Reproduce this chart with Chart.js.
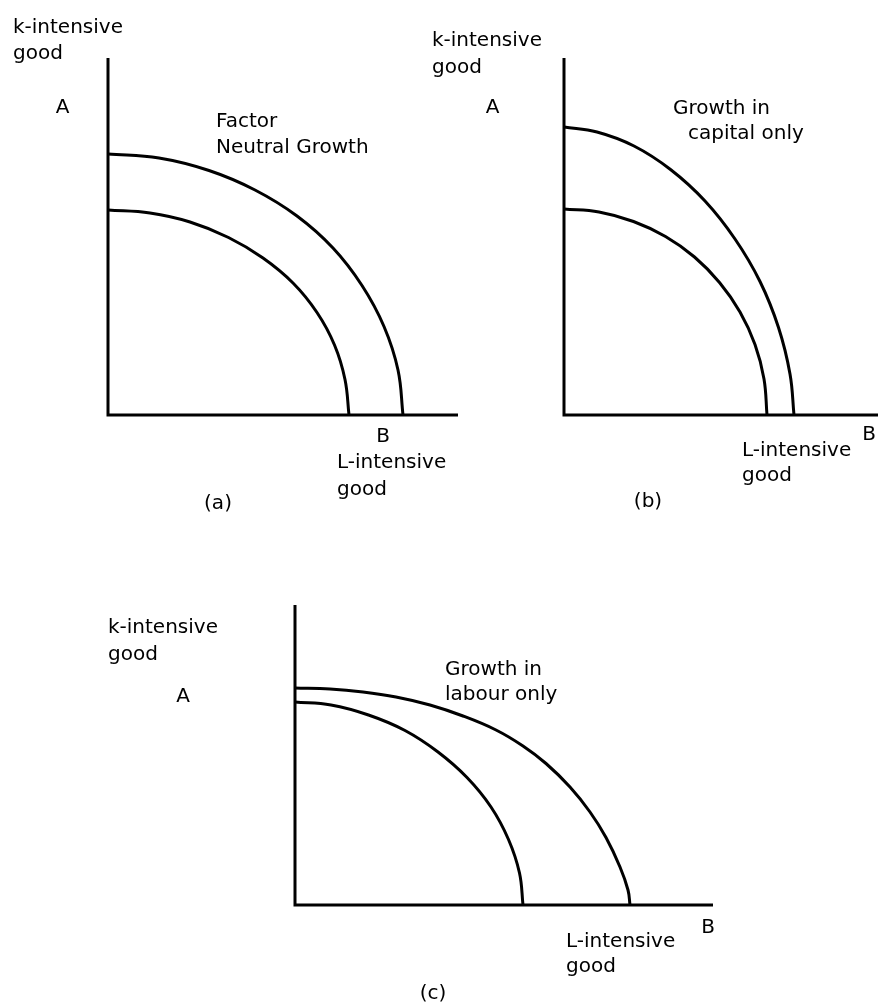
<!DOCTYPE html>
<html>
<head>
<meta charset="utf-8">
<title>Factor growth and the production possibility frontier</title>
<script src="https://cdn.jsdelivr.net/npm/chart.js@4/dist/chart.umd.min.js"></script>
<style>
  html, body { margin: 0; padding: 0; background: #fff; }
  #wrap { position: relative; width: 878px; height: 1008px; }
  #wrap canvas { position: absolute; left: 0; top: 0; }
</style>
</head>
<body>
<div id="wrap">
  <canvas id="panelA" width="878" height="1008"></canvas>
  <canvas id="panelB" width="878" height="1008"></canvas>
  <canvas id="panelC" width="878" height="1008"></canvas>
</div>
<script>
// PPF curves (x = L-intensive good, y = k-intensive good)

// (a) factor neutral growth
var aInnerX = [0, 4.2, 8.2, 12.05, 15.5, 18.5, 20.9, 22.65, 23.7, 24.1];
var aInnerY = [20.5, 20.2, 19.3, 17.75, 15.7, 13.2, 10.25, 7.0, 3.55, 0];
var aOuterX = [0, 5.1, 10.1, 14.7, 18.9, 22.5, 25.4, 27.6, 29.0, 29.5];
var aOuterY = [26.1, 25.7, 24.45, 22.5, 19.9, 16.7, 12.95, 8.85, 4.5, 0];

// (b) growth in capital only
var bInnerX = [0, 3.5, 6.95, 10.15, 13.05, 15.55, 17.6, 19.1, 20.0, 20.3];
var bInnerY = [20.6, 20.3, 19.35, 17.85, 15.8, 13.25, 10.3, 7.05, 3.6, 0];
var bOuterX = [0, 3.3, 7.0, 10.65, 14.1, 17.1, 19.6, 21.45, 22.6, 23.0];
var bOuterY = [28.8, 28.3, 26.9, 24.55, 21.4, 17.6, 13.35, 8.75, 4.1, 0];

// (c) growth in labour only
var cInnerX = [0, 3.6, 7.35, 11.0, 14.3, 17.2, 19.6, 21.35, 22.45, 22.8];
var cInnerY = [20.3, 20.0, 19.0, 17.45, 15.3, 12.75, 9.8, 6.55, 3.2, 0];
var cOuterX = [0, 3.5, 6.8, 10.1, 13.5, 16.8, 20.1, 22.8, 25.1, 27.5, 29.5, 31.1, 32.5, 33.3, 33.5];
var cOuterY = [21.7, 21.6, 21.3, 20.8, 20.0, 18.9, 17.5, 15.9, 14.15, 11.8, 9.3, 6.75, 3.8, 1.5, 0];

// axis lengths for each panel
var axisMaxX = [35, 31.4, 41.8];
var axisMaxY = [35.7, 35.7, 30];

function zip(xs, ys) {
    return xs.map(function (x, i) { return { x: x, y: ys[i] }; });
}

// draws the text labels at positions given in axis units
var labelPlugin = {
    id: 'panelLabels',
    afterDatasetsDraw: function (chart, args, opts) {
        var ctx = chart.ctx;
        var xs = chart.scales.x, ys = chart.scales.y;
        ctx.save();
        ctx.font = '20px "DejaVu Sans", sans-serif';
        ctx.fillStyle = '#000';
        ctx.textBaseline = 'alphabetic';
        (opts.items || []).forEach(function (it) {
            ctx.textAlign = it.align || 'left';
            ctx.fillText(it.text, xs.getPixelForValue(it.x), ys.getPixelForValue(it.y));
        });
        ctx.restore();
    }
};

function curve(data) {
    return {
        data: data,
        borderColor: '#000',
        borderWidth: 3,
        pointRadius: 0,
        fill: false,
        tension: 0.4,
        clip: false
    };
}

function makePanel(id, idx, inner, outer, padding, labels) {
    var xMax = axisMaxX[idx], yMax = axisMaxY[idx];
    var axes = {
        data: [{ x: 0, y: yMax }, { x: 0, y: 0 }, { x: xMax, y: 0 }],
        borderColor: '#000',
        borderWidth: 3,
        pointRadius: 0,
        tension: 0,
        fill: false,
        clip: false
    };
    return new Chart(document.getElementById(id), {
        type: 'line',
        data: { datasets: [axes, curve(inner), curve(outer)] },
        options: {
            responsive: false,
            animation: false,
            events: [],
            layout: { padding: padding },
            scales: {
                x: { type: 'linear', min: 0, max: xMax, display: false },
                y: { type: 'linear', min: 0, max: yMax, display: false }
            },
            plugins: {
                legend: { display: false },
                tooltip: { enabled: false },
                panelLabels: { items: labels }
            }
        },
        plugins: [labelPlugin]
    });
}

document.addEventListener('DOMContentLoaded', function () {
    makePanel('panelA', 0, zip(aInnerX, aInnerY), zip(aOuterX, aOuterY),
        { left: 108, top: 58, right: 420, bottom: 593 },
        [
            { text: 'k-intensive', x: -9.5, y: 38.2 },
            { text: 'good', x: -9.5, y: 35.6 },
            { text: 'A', x: -4.55, y: 30.2, align: 'center' },
            { text: 'Factor', x: 10.8, y: 28.8 },
            { text: 'Neutral Growth', x: 10.8, y: 26.2 },
            { text: 'B', x: 27.5, y: -2.7, align: 'center' },
            { text: 'L-intensive', x: 22.9, y: -5.3 },
            { text: 'good', x: 22.9, y: -8.0 },
            { text: '(a)', x: 11.0, y: -9.4, align: 'center' }
        ]);

    makePanel('panelB', 1, zip(bInnerX, bInnerY), zip(bOuterX, bOuterY),
        { left: 564, top: 58, right: 0, bottom: 593 },
        [
            { text: 'k-intensive', x: -13.2, y: 36.9 },
            { text: 'good', x: -13.2, y: 34.2 },
            { text: 'A', x: -7.15, y: 30.2, align: 'center' },
            { text: 'Growth in', x: 10.9, y: 30.1 },
            { text: 'capital only', x: 12.4, y: 27.6 },
            { text: 'B', x: 30.5, y: -2.5, align: 'center' },
            { text: 'L-intensive', x: 17.8, y: -4.1 },
            { text: 'good', x: 17.8, y: -6.6 },
            { text: '(b)', x: 8.4, y: -9.2, align: 'center' }
        ]);

    makePanel('panelC', 2, zip(cInnerX, cInnerY), zip(cOuterX, cOuterY),
        { left: 295, top: 605, right: 165, bottom: 103 },
        [
            { text: 'k-intensive', x: -18.7, y: 27.2 },
            { text: 'good', x: -18.7, y: 24.5 },
            { text: 'A', x: -11.2, y: 20.3, align: 'center' },
            { text: 'Growth in', x: 15.0, y: 23.0 },
            { text: 'labour only', x: 15.0, y: 20.5 },
            { text: 'B', x: 41.3, y: -2.8, align: 'center' },
            { text: 'L-intensive', x: 27.1, y: -4.2 },
            { text: 'good', x: 27.1, y: -6.7 },
            { text: '(c)', x: 13.8, y: -9.4, align: 'center' }
        ]);
});
</script>
</body>
</html>
